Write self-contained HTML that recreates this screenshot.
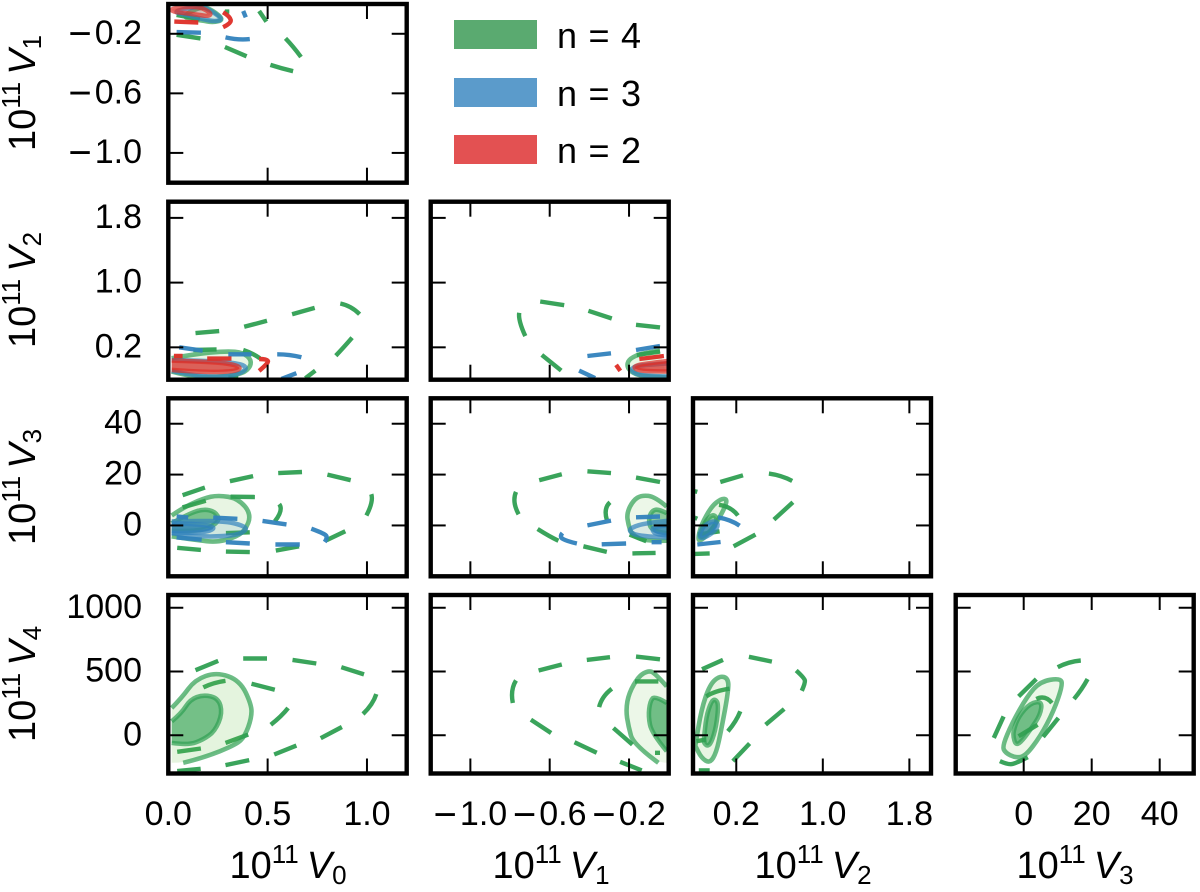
<!DOCTYPE html>
<html lang="en">
<head>
<meta charset="utf-8">
<title>Corner plot of V0 to V4</title>
<style>
html,body{margin:0;padding:0;background:#fff;}
svg{display:block;font-family:"Liberation Sans",sans-serif;}
</style>
</head>
<body>
<svg id="chart" xmlns="http://www.w3.org/2000/svg" width="1200" height="892" viewBox="0 0 1200 892">
  <rect x="0" y="0" width="1200" height="892" fill="#fff"/>
  <g id="panels"></g>

  <g>
    <rect x="454" y="20" width="83" height="29" fill="#5aaa70"/>
    <text x="557" y="48" font-size="36" textLength="84" lengthAdjust="spacing">n=4</text>
    <rect x="454" y="78" width="83" height="29" fill="#5b9bcb"/>
    <text x="557" y="106" font-size="36" textLength="84" lengthAdjust="spacing">n=3</text>
    <rect x="454" y="135" width="83" height="29" fill="#e35152"/>
    <text x="557" y="163" font-size="36" textLength="84" lengthAdjust="spacing">n=2</text>
  </g>

  <g font-size="38" text-anchor="middle">
    <text x="288" y="878">10<tspan dy="-15" font-size="26">11</tspan><tspan dy="15" dx="8" font-style="italic">V</tspan><tspan dy="6" font-size="26">0</tspan></text>
    <text x="551" y="878">10<tspan dy="-15" font-size="26">11</tspan><tspan dy="15" dx="8" font-style="italic">V</tspan><tspan dy="6" font-size="26">1</tspan></text>
    <text x="813" y="878">10<tspan dy="-15" font-size="26">11</tspan><tspan dy="15" dx="8" font-style="italic">V</tspan><tspan dy="6" font-size="26">2</tspan></text>
    <text x="1075" y="878">10<tspan dy="-15" font-size="26">11</tspan><tspan dy="15" dx="8" font-style="italic">V</tspan><tspan dy="6" font-size="26">3</tspan></text>
  </g>
  <g font-size="38" text-anchor="middle">
    <text transform="translate(35,93) rotate(-90)">10<tspan dy="-15" font-size="26">11</tspan><tspan dy="15" dx="7" font-style="italic">V</tspan><tspan dy="6" font-size="26">1</tspan></text>
    <text transform="translate(35,290) rotate(-90)">10<tspan dy="-15" font-size="26">11</tspan><tspan dy="15" dx="7" font-style="italic">V</tspan><tspan dy="6" font-size="26">2</tspan></text>
    <text transform="translate(35,487) rotate(-90)">10<tspan dy="-15" font-size="26">11</tspan><tspan dy="15" dx="7" font-style="italic">V</tspan><tspan dy="6" font-size="26">3</tspan></text>
    <text transform="translate(35,684) rotate(-90)">10<tspan dy="-15" font-size="26">11</tspan><tspan dy="15" dx="7" font-style="italic">V</tspan><tspan dy="6" font-size="26">4</tspan></text>
  </g>
</svg>

<script>
// Tick values and labels
const v0Ticks = [0, 0.5, 1.0];
const v0Labels = ['0.0', '0.5', '1.0'];
const v1Ticks = [-1.0, -0.6, -0.2];
const v1Labels = ['\u22121.0', '\u22120.6', '\u22120.2'];
const v2Ticks = [0.2, 1.0, 1.8];
const v2Labels = ['0.2', '1.0', '1.8'];
const v3Ticks = [0, 20, 40];
const v3Labels = ['0', '20', '40'];
const v4Ticks = [0, 500, 1000];
const v4Labels = ['0', '500', '1000'];

// Panel V0-V1
const v0v1Green = [[[.285,-.289],[.394,-.351]],[[.514,-.409],[.570,-.433],[.628,-.451]],[[.590,-.231],[.628,-.284],[.668,-.356]],[[.457,-.047],[.494,-.118]],[[.042,-.207],[.162,-.231]],[[.042,-.073],[.159,-.102]],[[.285,-.051],[.307,-.051]]];
const v0v1Blue = [[[.288,-.224],[.352,-.244],[.410,-.236]],[[.377,-.047],[.390,-.089]],[[.042,-.189],[.164,-.193]]];
const v0v1Red = [[[.03,-.118],[.151,-.124]],[[.276,-.056],[.310,-.084],[.318,-.129],[.276,-.156]]];
const v0v1GreenOuter = [[.168,-.013],[.226,-.044],[.28,-.107],[.226,-.124],[.168,-.111],[.059,-.089]];
const v0v1BlueOuter = [[.159,-.013],[.209,-.04],[.276,-.102],[.235,-.118],[.176,-.102],[.092,-.073],[.017,-.051]];
const v0v1RedOuter = [[.017,-.029],[.151,-.013],[.218,-.062],[.201,-.084],[.126,-.067],[.017,-.051]];

// Panel V0-V2
const v0v2Green = [[[.137,.376],[.256,.401]],[[.382,.454],[.497,.528]],[[.623,.610],[.737,.688]],[[.866,.742],[.921,.713],[.963,.610]],[[.925,.319],[.879,.188],[.843,.097]],[[.740,-.087],[.690,-.182]],[[.126,.167],[.243,.175]],[[.377,.167],[.427,.126],[.461,.065]],[[.302,-.173],[.352,-.18]]];
const v0v2Blue = [[[.055,.2],[.173,.159]],[[.302,.114],[.419,.114]],[[.548,.114],[.611,.114],[.670,.077]],[[.645,-.12],[.57,-.19]]];
const v0v2Red = [[[.028,.093],[.072,.093]],[[.196,.061],[.318,.061]],[[.457,.056],[.494,.056],[.508,.011],[.457,-.091]]];
const v0v2GreenOuter = [[.017,.065],[.126,.114],[.293,.155],[.377,.134],[.419,.044],[.41,-.058],[.36,-.14],[.209,-.173],[.092,-.149],[.017,-.099]];
const v0v2BlueOuter = [[.017,-.091],[.126,-.149],[.276,-.169],[.369,-.12],[.397,-.05],[.36,-.001],[.226,.032],[.017,.044]];
const v0v2RedInner = [[.017,.036],[.176,.024],[.31,-.001],[.369,-.05],[.335,-.099],[.176,-.108],[.017,-.079]];

// Panel V0-V3
const v0v3Green = [[[.072,11.9],[.184,14.9]],[[.31,17.4],[.427,19.4]],[[.553,20.6],[.673,21.0]],[[.801,20],[.918,17.8]],[[1.022,12.3],[1.034,9.4],[.997,3.9]],[[.891,-2.3],[.796,-5.8]],[[.658,-8.2],[.541,-9.9]],[[.41,-10.5],[.29,-10.3]],[[.164,-9.6],[.045,-8.8]],[[.072,7.1],[.189,9.7]],[[.313,11.3],[.436,11.2]],[[.558,8.4],[.581,6.1],[.536,1.6]],[[.29,-3],[.41,-2.7]]];
const v0v3Blue = [[[.042,3.5],[.1,3.1]],[[.226,3.1],[.348,2.6]],[[.474,1.8],[.595,.4]],[[.72,-1.3],[.779,-3],[.804,-4.5],[.787,-6.5]],[[.662,-7.5],[.539,-7.5]],[[.41,-7.1],[.29,-6.6]],[[.168,-5.6],[.042,-4.7]]];
const v0v3GreenOuter = [[.017,3.9],[.075,7],[.176,10.6],[.251,11.9],[.352,10.6],[.419,4.4],[.385,-2.3],[.327,-4.9],[.243,-6.6],[.142,-5.8],[.017,-4.3]];
const v0v3GreenInner = [[.017,.9],[.1,4.5],[.176,6.5],[.235,5.5],[.26,2.2],[.209,-1],[.126,-2.3],[.017,-2.1]];
const v0v3BlueOuter = [[.017,1.6],[.126,1.8],[.293,1.6],[.377,-.1],[.397,-1.7],[.343,-3.9],[.209,-4.5],[.092,-3.9],[.017,-3]];
const v0v3BlueInner = [[.017,.9],[.176,.5],[.243,-1],[.176,-3],[.017,-3]];

// Panel V0-V4
const v0v4Green = [[[.137,510],[.251,583]],[[.377,602],[.497,602]],[[.625,591],[.745,563]],[[.871,534],[.985,477]],[[1.047,323],[1.03,240],[.98,167]],[[.874,65],[.767,-23]],[[.645,-81],[.533,-151]],[[.407,-195],[.288,-234]],[[.163,-263],[.045,-281]],[[.176,375],[.226,414],[.288,427]],[[.419,404],[.536,357]],[[.603,214],[.57,148],[.516,83]],[[.402,5],[.288,-60]],[[.164,-104],[.045,-130]]];
const v0v4GreenOuter = [[.017,214],[.067,292],[.134,435],[.243,495],[.36,430],[.419,240],[.419,135],[.385,-8],[.343,-73],[.176,-177],[.075,-216]];
const v0v4GreenOuterFill = [[.017,-216]];
const v0v4GreenInner = [[.017,109],[.067,174],[.109,279],[.176,318],[.251,292],[.273,174],[.234,31],[.176,-34],[.101,-78],[.017,-60]];

// Panel V1-V2
const v1v2Green = [[[-.648,.766],[-.527,.721]],[[-.405,.651],[-.287,.557]],[[-.165,.479],[-.044,.446]],[[-.754,.627],[-.76,.536],[-.723,.339]],[[-.64,.106],[-.542,-.087]],[[-.161,.106],[-.044,.147]]];
const v1v2Blue = [[[-.41,.093],[-.291,.126]],[[-.165,.167],[-.044,.216]],[[-.452,-.087],[-.405,-.141],[-.371,-.18]]];
const v1v2Red = [[[-.265,-.017],[-.244,-.091]],[[-.148,.056],[-.024,.093]]];
const v1v2GreenOuter = [[-.044,.159],[-.136,.126],[-.195,.065],[-.212,-.017],[-.195,-.099],[-.136,-.161],[-.01,-.173]];
const v1v2BlueOuter = [[-.002,.003],[-.12,-.017],[-.178,-.038],[-.19,-.099],[-.136,-.153],[-.002,-.161]];
const v1v2RedInner = [[-.002,.032],[-.103,.003],[-.17,-.026],[-.173,-.067],[-.119,-.099],[-.002,-.099]];

// Panel V1-V3
const v1v3Green = [[[-.653,17.8],[-.539,20.1]],[[-.41,21.3],[-.291,20.6]],[[-.165,18.8],[-.044,17.1]],[[-.77,13.2],[-.791,9.4],[-.757,4.4]],[[-.661,-1.4],[-.598,-4.5],[-.556,-6]],[[-.43,-8.2],[-.312,-10.4]],[[-.183,-11],[-.066,-10.8]],[[-.296,9.1],[-.329,6.8],[-.312,2.2]],[[-.197,-3.6],[-.113,-6.2]]];
const v1v3Blue = [[[-.41,0],[-.291,1.9]],[[-.165,3.2],[-.044,3.5]],[[-.536,-3],[-.552,-4.5],[-.514,-6.2],[-.463,-7.1]],[[-.338,-7.4],[-.215,-7.1]],[[-.086,-6.6],[-.036,-6.6]]];
const v1v3GreenOuter = [[-.01,7.4],[-.069,11.3],[-.136,11.9],[-.178,10],[-.212,4.8],[-.203,.3],[-.187,-3.6],[-.119,-6.2],[-.01,-6]];
const v1v3GreenInner = [[-.01,4.8],[-.052,6.5],[-.086,5.7],[-.103,2.2],[-.086,-2.3],[-.01,-3]];
const v1v3BlueOuter = [[-.01,1.8],[-.119,.9],[-.187,-.8],[-.2,-2.3],[-.153,-4.3],[-.01,-4.7]];
const v1v3BlueInner = [[-.01,0],[-.069,-.4],[-.086,-1.7],[-.061,-3.6],[-.01,-3.9]];

// Panel V1-V4
const v1v4Green = [[[-.656,508],[-.539,555]],[[-.413,591],[-.296,612]],[[-.165,617],[-.044,596]],[[-.77,430],[-.799,357],[-.786,253]],[[-.695,122],[-.593,18]],[[-.475,-55],[-.363,-138]],[[-.245,-208],[-.136,-276]],[[-.287,365],[-.338,305],[-.351,221]],[[-.279,57],[-.183,-73]],[[-.069,-138],[-.044,-138]],[[-.17,422],[-.052,422]]];
const v1v4GreenOuter = [[-.01,383],[-.069,487],[-.103,508],[-.153,461],[-.2,331],[-.216,201],[-.203,70],[-.178,-73],[-.052,-216]];
const v1v4GreenOuterFill = [[-.01,-216]];
const v1v4GreenInner = [[-.01,253],[-.069,310],[-.094,266],[-.103,148],[-.086,18],[-.01,-125]];

// Panel V2-V3
const v2v3Green = [[[.052,17.1],[.262,19.7]],[[.502,20.4],[.615,19.7],[.717,17.5]],[[.723,9.1],[.548,2.3]],[[.378,-3.6],[.175,-8.2]],[[-.046,-11],[-.185,-11.2]],[[-.19,13.5],[-.16,13.2]],[[-.185,3.1],[-.16,2.6]],[[.04,8.1],[.154,7.4],[.215,3.9]],[[-.154,-3.6],[.046,-2.3]]];
const v2v3Blue = [[[.031,3.2],[.154,2.2],[.231,-.1]],[[-.16,-7.5],[.055,-6.5]]];
const v2v3GreenOuter = [[-.154,-4.9],[-.123,.3],[-.031,7.4],[.062,10.6],[.117,10.3],[.092,6.8],[.015,.9],[-.062,-3.6],[-.138,-6.2]];
const v2v3GreenInner = [[-.129,-2.3],[-.077,2.2],[-.015,4.4],[.025,2.9],[0,-.4],[-.077,-3.6],[-.129,-4.9]];
const v2v3BlueInner = [[-.138,-3],[-.092,.3],[0,1.9],[.037,.3],[0,-2.3],[-.092,-4.9],[-.138,-4.9]];

// Panel V2-V4
const v2v4Green = [[[-.117,518],[.077,591]],[[.317,615],[.529,578]],[[.754,508],[.831,448],[.837,409],[.806,349]],[[.643,206],[.471,83]],[[.323,-65],[.169,-203]],[[.237,188],[.2,109],[.123,31]],[[-.146,-276],[-.046,-276]],[[-.169,-47],[-.077,-34]],[[-.077,305],[0,349],[.138,365]]];
const v2v4GreenOuter = [[-.178,-73],[-.123,201],[-.046,396],[.046,466],[.123,448],[.129,357],[.062,44],[.015,-138],[-.046,-221],[-.123,-177],[-.178,-86]];
const v2v4GreenInner = [[-.1,-34],[-.077,148],[-.031,266],[.006,284],[.037,240],[.015,70],[-.031,-60],[-.068,-86],[-.098,-60]];

// Panel V3-V4
const v3v4Green = [[[10,534],[13.2,578],[16.8,586]],[[18.8,440],[17.1,357],[14.8,284]],[[10.2,135],[5.7,-13]],[[-5.9,148],[-8.8,-21]],[[-1.5,305],[3.7,440]],[[3.7,284],[6.3,318],[8.3,253]],[[-7,-203],[-4.4,-234],[-2,-216],[1.2,-172]],[[-1.5,-8],[4.1,83]]];
const v3v4GreenOuter = [[-6.3,-86],[-3.4,96],[1,305],[4.9,422],[10.7,448],[11.5,396],[8.8,188],[4.9,-8],[.5,-164],[-2.4,-177],[-5.4,-138]];
const v3v4GreenInner = [[-2.9,44],[-1.5,148],[2,253],[5.4,266],[4.9,161],[2,44],[-1,-60],[-2.4,-73],[-3.1,-8]];

const NS = 'http://www.w3.org/2000/svg';
const GREEN = '#2f9f52';
const GREEN_TINT = '#6cc04a';
const BLUE = '#3182bd';
const RED = '#de2d26';

// Axis definitions (domain and pixel range)
const xAxes = {
  V0: {min: 0, max: 1.2, p0: 168.3, p1: 406.7, ticks: v0Ticks, labels: v0Labels},
  V1: {min: -1.2, max: 0, p0: 430.7, p1: 668.7, ticks: v1Ticks, labels: v1Labels},
  V2: {min: -0.2, max: 2.0, p0: 693, p1: 931, ticks: v2Ticks, labels: v2Labels},
  V3: {min: -20, max: 50, p0: 955.7, p1: 1193.7, ticks: v3Ticks, labels: v3Labels}
};
const yAxes = {
  V1: {min: -1.2, max: 0, p0: 182.7, p1: 4, ticks: v1Ticks, labels: v1Labels},
  V2: {min: -0.2, max: 2.0, p0: 379.7, p1: 201.7, ticks: v2Ticks, labels: v2Labels},
  V3: {min: -20, max: 50, p0: 576.3, p1: 398.3, ticks: v3Ticks, labels: v3Labels},
  V4: {min: -300, max: 1100, p0: 773.5, p1: 595, ticks: v4Ticks, labels: v4Labels}
};

function scale(axis, v) {
  return axis.p0 + (v - axis.min) / (axis.max - axis.min) * (axis.p1 - axis.p0);
}

function smoothPath(px, closed) {
  if (px.length < 3) {
    return 'M' + px.map(p => p[0].toFixed(1) + ' ' + p[1].toFixed(1)).join('L');
  }
  const mid = (a, b) => [(a[0] + b[0]) / 2, (a[1] + b[1]) / 2];
  const f = p => p[0].toFixed(1) + ' ' + p[1].toFixed(1);
  let d = '';
  if (closed) {
    const start = mid(px[px.length - 1], px[0]);
    d = 'M' + f(start);
    for (let i = 0; i < px.length; i++) {
      d += 'Q' + f(px[i]) + ' ' + f(mid(px[i], px[(i + 1) % px.length]));
    }
    return d + 'Z';
  }
  d = 'M' + f(px[0]);
  for (let i = 1; i < px.length - 1; i++) {
    d += 'Q' + f(px[i]) + ' ' + f(i === px.length - 2 ? px[i + 1] : mid(px[i], px[i + 1]));
  }
  return d;
}

function svgEl(tag, parent) {
  const el = document.createElementNS(NS, tag);
  parent.appendChild(el);
  return el;
}

function toPx(points, xa, ya) {
  return points.map(p => [scale(xa, p[0]), scale(ya, p[1])]);
}

// Writes a tick label; a leading minus is drawn wider, as in the reference.
function setLabelText(el, text) {
  if (text.charAt(0) === '\u2212') {
    const minus = svgEl('tspan', el);
    minus.setAttribute('font-size', '40');
    minus.setAttribute('dy', '3');
    minus.textContent = '\u2212';
    const rest = svgEl('tspan', el);
    rest.setAttribute('dy', '-3');
    rest.setAttribute('dx', '3');
    rest.textContent = text.slice(1);
  } else {
    el.textContent = text;
  }
}

function drawDashes(list, color, xa, ya, parent) {
  list.forEach(points => {
    const el = svgEl('path', parent);
    
    
    el.setAttribute('d', smoothPath(toPx(points, xa, ya), false));
    el.setAttribute('fill', 'none');
    el.setAttribute('stroke', color);
    el.setAttribute('stroke-width', '4.4');
    el.setAttribute('stroke-opacity', '0.95');
  });
}

function drawRegion(points, color, fillOpacity, xa, ya, parent, closed, fillExtra) {
  const px = toPx(points, xa, ya);
  const isLightGreen = color === GREEN && fillOpacity < 0.2;
  const fill = svgEl('path', parent);
  
  
  fill.setAttribute('d', smoothPath(fillExtra ? px.concat(toPx(fillExtra, xa, ya)) : px, closed));
  fill.setAttribute('fill', isLightGreen ? GREEN_TINT : color);
  fill.setAttribute('fill-opacity', isLightGreen ? fillOpacity * 1.3 : fillOpacity);
  fill.setAttribute('stroke', 'none');
  const line = svgEl('path', parent);
  
  
  line.setAttribute('d', smoothPath(px, closed));
  line.setAttribute('fill', 'none');
  line.setAttribute('stroke', color);
  line.setAttribute('stroke-width', '4.6');
  line.setAttribute('stroke-opacity', '0.7');
  line.setAttribute('stroke-linejoin', 'round');
}

// Each panel: which axes, and the layers drawn back to front.
const panelDefs = [
  {x: 'V0', y: 'V1', showY: true, showX: false, layers: [
    ['dash', v0v1Green, GREEN], ['region', v0v1GreenOuter, GREEN, .12, true],
    ['dash', v0v1Blue, BLUE], ['region', v0v1BlueOuter, BLUE, .12, true],
    ['dash', v0v1Red, RED], ['region', v0v1RedOuter, RED, .2, true]]},
  {x: 'V0', y: 'V2', showY: true, showX: false, layers: [
    ['dash', v0v2Green, GREEN], ['region', v0v2GreenOuter, GREEN, .12, false],
    ['dash', v0v2Blue, BLUE], ['region', v0v2BlueOuter, BLUE, .1, false],
    ['dash', v0v2Red, RED], ['region', v0v2RedInner, RED, .72, false]]},
  {x: 'V1', y: 'V2', showY: false, showX: false, layers: [
    ['dash', v1v2Green, GREEN], ['region', v1v2GreenOuter, GREEN, .12, false],
    ['dash', v1v2Blue, BLUE], ['region', v1v2BlueOuter, BLUE, .1, false],
    ['dash', v1v2Red, RED], ['region', v1v2RedInner, RED, .72, false]]},
  {x: 'V0', y: 'V3', showY: true, showX: false, layers: [
    ['dash', v0v3Green, GREEN], ['region', v0v3GreenOuter, GREEN, .12, false], ['region', v0v3GreenInner, GREEN, .6, false],
    ['dash', v0v3Blue, BLUE], ['region', v0v3BlueOuter, BLUE, .12, false], ['region', v0v3BlueInner, BLUE, .75, false]]},
  {x: 'V1', y: 'V3', showY: false, showX: false, layers: [
    ['dash', v1v3Green, GREEN], ['region', v1v3GreenOuter, GREEN, .1, false], ['region', v1v3GreenInner, GREEN, .5, false],
    ['dash', v1v3Blue, BLUE], ['region', v1v3BlueOuter, BLUE, .1, false], ['region', v1v3BlueInner, BLUE, .7, false]]},
  {x: 'V2', y: 'V3', showY: false, showX: false, layers: [
    ['dash', v2v3Green, GREEN], ['region', v2v3GreenOuter, GREEN, .12, true], ['region', v2v3GreenInner, GREEN, .5, true],
    ['dash', v2v3Blue, BLUE], ['region', v2v3BlueInner, BLUE, .7, true]]},
  {x: 'V0', y: 'V4', showY: true, showX: true, layers: [
    ['dash', v0v4Green, GREEN], ['region', v0v4GreenOuter, GREEN, .14, false, v0v4GreenOuterFill], ['region', v0v4GreenInner, GREEN, .62, false]]},
  {x: 'V1', y: 'V4', showY: false, showX: true, layers: [
    ['dash', v1v4Green, GREEN], ['region', v1v4GreenOuter, GREEN, .1, false, v1v4GreenOuterFill], ['region', v1v4GreenInner, GREEN, .65, false]]},
  {x: 'V2', y: 'V4', showY: false, showX: true, layers: [
    ['dash', v2v4Green, GREEN], ['region', v2v4GreenOuter, GREEN, .12, true], ['region', v2v4GreenInner, GREEN, .65, true]]},
  {x: 'V3', y: 'V4', showY: false, showX: true, layers: [
    ['dash', v3v4Green, GREEN], ['region', v3v4GreenOuter, GREEN, .1, true], ['region', v3v4GreenInner, GREEN, .65, true]]}
];

const root = document.getElementById('panels');
const TICK_LEN = 15;

panelDefs.forEach((def, idx) => {
  const xa = xAxes[def.x];
  const ya = yAxes[def.y];
  const left = xa.p0, right = xa.p1, bottom = ya.p0, top = ya.p1;

  const g = svgEl('g', root);
  
  

  const clip = svgEl('clipPath', g);
  clip.setAttribute('id', 'clip' + idx);
  const clipRect = svgEl('rect', clip);
  clipRect.setAttribute('x', left);
  clipRect.setAttribute('y', top);
  clipRect.setAttribute('width', right - left);
  clipRect.setAttribute('height', bottom - top);

  const marks = svgEl('g', g);
  
  
  marks.setAttribute('clip-path', 'url(#clip' + idx + ')');
  def.layers.forEach(layer => {
    if (layer[0] === 'dash') {
      drawDashes(layer[1], layer[2], xa, ya, marks);
    } else {
      drawRegion(layer[1], layer[2], layer[3], xa, ya, marks, layer[4], layer[5]);
    }
  });

  const ticks = svgEl('g', g);
  
  
  ticks.setAttribute('stroke', '#000');
  ticks.setAttribute('stroke-width', '2');
  xa.ticks.forEach((t, i) => {
    const px = scale(xa, t);
    const up = svgEl('line', ticks);
    
    
    up.setAttribute('x1', px); up.setAttribute('x2', px);
    up.setAttribute('y1', bottom); up.setAttribute('y2', bottom - TICK_LEN);
    const down = svgEl('line', ticks);
    
    
    down.setAttribute('x1', px); down.setAttribute('x2', px);
    down.setAttribute('y1', top); down.setAttribute('y2', top + TICK_LEN);
    if (def.showX) {
      const label = svgEl('text', g);
      
      
      label.setAttribute('x', px);
      label.setAttribute('y', 825);
      label.setAttribute('font-size', '34');
      label.setAttribute('text-anchor', 'middle');
      setLabelText(label, xa.labels[i]);
    }
  });
  ya.ticks.forEach((t, i) => {
    const py = scale(ya, t);
    const a = svgEl('line', ticks);
    
    
    a.setAttribute('x1', left); a.setAttribute('x2', left + TICK_LEN);
    a.setAttribute('y1', py); a.setAttribute('y2', py);
    const b = svgEl('line', ticks);
    
    
    b.setAttribute('x1', right); b.setAttribute('x2', right - TICK_LEN);
    b.setAttribute('y1', py); b.setAttribute('y2', py);
    if (def.showY) {
      const label = svgEl('text', g);
      
      
      label.setAttribute('x', 142);
      label.setAttribute('y', py + 10);
      label.setAttribute('font-size', '34');
      label.setAttribute('text-anchor', 'end');
      setLabelText(label, ya.labels[i]);
    }
  });

  const frame = svgEl('rect', g);
  
  
  frame.setAttribute('x', left);
  frame.setAttribute('y', top);
  frame.setAttribute('width', right - left);
  frame.setAttribute('height', bottom - top);
  frame.setAttribute('fill', 'none');
  frame.setAttribute('stroke', '#000');
  frame.setAttribute('stroke-width', '4.4');
});
</script>
</body>
</html>
